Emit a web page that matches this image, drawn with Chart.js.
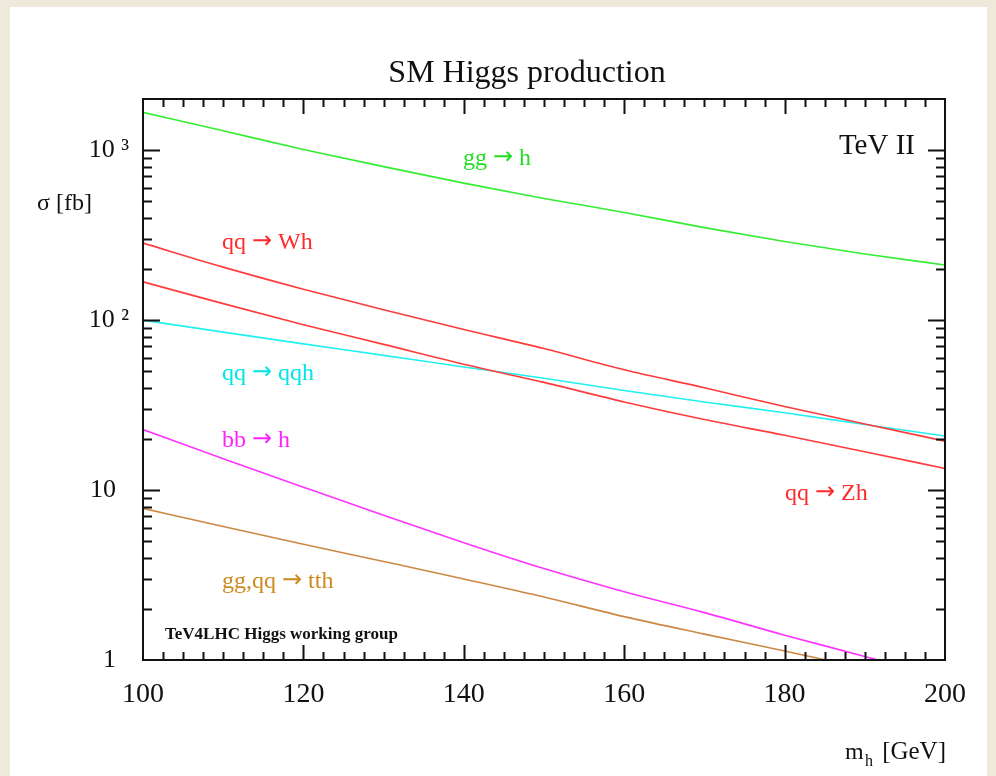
<!DOCTYPE html>
<html>
<head>
<meta charset="utf-8">
<title>SM Higgs production</title>
<script src="https://cdn.jsdelivr.net/npm/chart.js"></script>
<style>
  body { margin: 0; background: #eee9da; }
  #panel { position: absolute; left: 10px; top: 7px; width: 977px; height: 769px; background: #fff; }
  #c { position: absolute; left: 0; top: 0; }
</style>
</head>
<body>
<div id="panel"></div>
<canvas id="c" width="996" height="776"></canvas>
<script>
// Higgs mass points [GeV]
const masses = [100, 110, 120, 130, 140, 150, 160, 170, 180, 190, 200];

// cross sections [fb]
const ggH  = [1670, 1300, 1010, 800, 640, 520, 430, 350, 290, 245, 211];
const qqWH = [284, 205, 152, 115, 88, 68, 51, 40, 31, 24.5, 19.4];
const qqZH = [168, 125, 94, 72, 55, 43, 33, 26, 21, 16.8, 13.4];
const qqH  = [100, 85, 72.5, 62, 53, 45.5, 38.5, 33, 28.5, 24.3, 20.8];
const bbH  = [22.7, 15.3, 10.4, 7.1, 4.9, 3.45, 2.52, 1.9, 1.4, 1.05, 0.78];
const ttH  = [7.8, 6.1, 4.8, 3.8, 3.0, 2.35, 1.8, 1.42, 1.13, 0.89, 0.70];

const xTicks = [100, 120, 140, 160, 180, 200];
const yTickValues = [1, 10, 100, 1000];
const yTickLabels = ['1\u2007', '10\u2007', '10 \u00b2', '10 \u00b3'];

const serif = "'Liberation Serif', 'DejaVu Serif', serif";

function series(label, values, color) {
  return {
    label: label,
    data: masses.map((m, i) => ({ x: m, y: values[i] })),
    borderColor: color,
    borderWidth: 1.6,
    pointRadius: 0,
    fill: false,
    cubicInterpolationMode: 'monotone'
  };
}

// text drawn on the plot (labels of the curves etc.)
const notes = [
  { text: 'SM Higgs production', x: 527, y: 82, color: '#111', size: 32, align: 'center' },
  { text: 'TeV II', x: 915, y: 154, color: '#111', size: 29, align: 'right' },
  { text: 'gg \u2192 h', x: 463, y: 165, color: '#22dd22', size: 24 },
  { text: 'qq \u2192 Wh', x: 222, y: 249, color: '#ff2a2a', size: 24 },
  { text: 'qq \u2192 qqh', x: 222, y: 380, color: '#00e5e5', size: 24 },
  { text: 'bb \u2192 h', x: 222, y: 447, color: '#ff22ff', size: 24 },
  { text: 'qq \u2192 Zh', x: 785, y: 500, color: '#ff2a2a', size: 24 },
  { text: 'gg,qq \u2192 tth', x: 222, y: 588, color: '#cc8a1e', size: 24 },
  { text: 'TeV4LHC Higgs working group', x: 165, y: 639, color: '#111', size: 17, weight: 'bold' },
  { text: '\u03c3 [fb]', x: 37, y: 210, color: '#111', size: 24 },
  { text: 'm', x: 845, y: 759, color: '#111', size: 24 },
  { text: 'h', x: 865, y: 766, color: '#111', size: 16 },
  { text: '[GeV]', x: 946, y: 759, color: '#111', size: 25, align: 'right' }
];

// draws a note; the arrow comes from DejaVu Sans, the serif arrow is tiny
function drawNote(ctx, n) {
  const w = n.weight ? n.weight + ' ' : '';
  const parts = n.text.split('\u2192');
  const fonts = [];
  const pieces = [];
  parts.forEach((p, i) => {
    if (i > 0) { pieces.push('\u2192'); fonts.push(w + n.size + "px 'DejaVu Sans', sans-serif"); }
    pieces.push(p); fonts.push(w + n.size + 'px ' + serif);
  });
  let total = 0;
  const widths = pieces.map((p, i) => { ctx.font = fonts[i]; const m = ctx.measureText(p).width; total += m; return m; });
  let x = n.x;
  if (n.align === 'center') x -= total / 2;
  if (n.align === 'right') x -= total;
  ctx.fillStyle = n.color;
  ctx.textAlign = 'left';
  ctx.textBaseline = 'alphabetic';
  pieces.forEach((p, i) => {
    ctx.font = fonts[i];
    ctx.fillText(p, x, n.y - (p === '\u2192' ? 1 : 0));
    x += widths[i];
  });
}

const frameTicks = {
  id: 'frameTicks',
  afterDraw(chart) {
    const { ctx, chartArea: a, scales } = chart;
    const x = scales.x, y = scales.y;
    ctx.save();
    ctx.strokeStyle = '#111';
    ctx.lineWidth = 2;
    ctx.strokeRect(a.left, a.top, a.right - a.left, a.bottom - a.top);
    ctx.beginPath();
    for (let v = 102.5; v < 200; v += 2.5) {
      const px = Math.round(x.getPixelForValue(v)) + 0.5;
      const len = (v % 20 === 0) ? 15 : 8;
      ctx.moveTo(px, a.bottom); ctx.lineTo(px, a.bottom - len);
      ctx.moveTo(px, a.top); ctx.lineTo(px, a.top + len);
    }
    for (const d of yTickValues) {
      for (let m = 1; m <= 9; m++) {
        const v = m * d;
        if (v <= 1 || v >= y.max) continue;
        const py = Math.round(y.getPixelForValue(v)) + 0.5;
        const len = m === 1 ? 17 : 9;
        ctx.moveTo(a.left, py); ctx.lineTo(a.left + len, py);
        ctx.moveTo(a.right, py); ctx.lineTo(a.right - len, py);
      }
    }
    ctx.stroke();
    for (const n of notes) drawNote(ctx, n);
    ctx.restore();
  }
};

new Chart(document.getElementById('c'), {
  type: 'line',
  data: {
    datasets: [
      series('gg \u2192 h', ggH, '#33ee33'),
      series('qq \u2192 Wh', qqWH, '#ff3b3b'),
      series('qq \u2192 Zh', qqZH, '#ff3b3b'),
      series('qq \u2192 qqh', qqH, '#22f0f0'),
      series('bb \u2192 h', bbH, '#ff33ff'),
      series('gg,qq \u2192 tth', ttH, '#cc8844')
    ]
  },
  options: {
    responsive: false,
    devicePixelRatio: 1,
    animation: false,
    layout: { padding: { top: 99, right: 51, left: 0, bottom: 0 } },
    plugins: { legend: { display: false }, tooltip: { enabled: false } },
    scales: {
      x: {
        type: 'linear',
        min: 100,
        max: 200,
        grid: { display: false, drawTicks: false },
        border: { display: false },
        afterBuildTicks: s => { s.ticks = xTicks.map(v => ({ value: v })); },
        ticks: { color: '#111', font: { family: serif, size: 28 }, padding: 18, maxRotation: 0 },
        afterFit: s => { s.height = 116; }
      },
      y: {
        type: 'logarithmic',
        min: 1,
        max: 2000,
        grid: { display: false, drawTicks: false },
        border: { display: false },
        afterBuildTicks: s => { s.ticks = yTickValues.map(v => ({ value: v })); },
        ticks: {
          color: '#111',
          font: { family: serif, size: 26 },
          padding: 14,
          callback: v => yTickLabels[yTickValues.indexOf(v)]
        },
        afterFit: s => { s.width = 143; }
      }
    }
  },
  plugins: [frameTicks]
});
</script>
</body>
</html>
